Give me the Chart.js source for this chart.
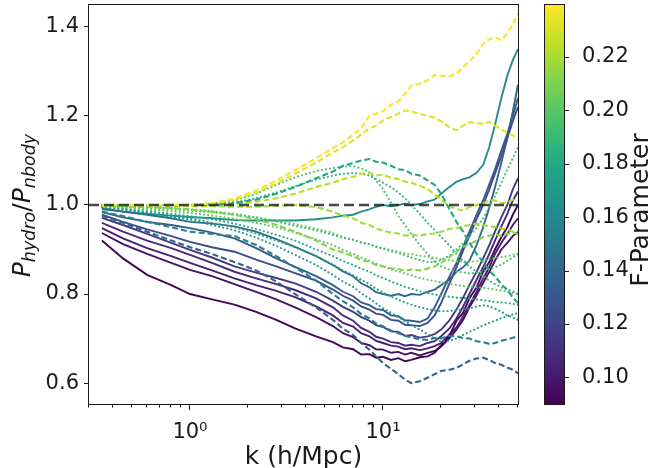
<!DOCTYPE html>
<html>
<head>
<meta charset="utf-8">
<script src="https://cdn.jsdelivr.net/npm/chart.js@4.4.1/dist/chart.umd.min.js"></script>
<style>
  html, body { margin: 0; padding: 0; background: #fff; }
  #wrap { width: 652px; height: 468px; }
</style>
</head>
<body>
<div id="wrap"><canvas id="ratioChart" width="652" height="468"></canvas></div>
<script>
// k bins (h/Mpc) shared by every run
const kValues = [0.35, 0.45, 0.6, 0.8, 1.0, 1.3, 1.7, 2.2, 2.8, 3.5, 4.5, 5.5, 6.2, 7, 7.7, 8.5, 9.2, 10, 11, 12, 13, 14,
  15.5, 17, 18.5, 20, 22, 24, 26, 28, 30.5, 33, 35.5, 38, 41, 44, 47, 50];

const xTickValues = [0.3, 0.4, 0.5, 0.6, 0.7, 0.8, 0.9, 1, 2, 3, 4, 5, 6, 7, 8, 9, 10, 20, 30, 40, 50];
const yTickValues = [0.6, 0.8, 1.0, 1.2, 1.4];
const cbTickValues = [0.10, 0.12, 0.14, 0.16, 0.18, 0.20, 0.22];
const fMin = 0.09;
const fMax = 0.2395;

// solid runs
const solid1 = [0.92, 0.88, 0.843, 0.82, 0.80, 0.788, 0.776, 0.76, 0.742, 0.723, 0.705,
  0.692, 0.680, 0.676, 0.664, 0.665, 0.657, 0.659, 0.652, 0.656, 0.649, 0.652, 0.658, 0.66, 0.668, 0.685, 0.705, 0.74, 0.758, 0.79, 0.815, 0.85, 0.872, 0.9, 0.928, 0.95, 0.978, 1.0];
const solid2 = [0.937, 0.912, 0.89, 0.87, 0.854, 0.84, 0.822, 0.805, 0.788, 0.77, 0.748,
  0.728, 0.712, 0.703, 0.69, 0.685, 0.676, 0.675, 0.668, 0.67, 0.664, 0.668, 0.662, 0.668, 0.672, 0.682, 0.7, 0.72, 0.742, 0.77, 0.797, 0.825, 0.85, 0.875, 0.9, 0.915, 0.93, 0.94];
const solid3 = [0.948, 0.925, 0.903, 0.885, 0.87, 0.853, 0.835, 0.82, 0.807, 0.793, 0.772,
  0.752, 0.735, 0.727, 0.712, 0.705, 0.695, 0.69, 0.684, 0.682, 0.676, 0.678, 0.674, 0.678, 0.683, 0.69, 0.708, 0.725, 0.75, 0.775, 0.805, 0.835, 0.86, 0.89, 0.915, 0.935, 0.955, 0.97];
const solid4 = [0.96, 0.94, 0.92, 0.903, 0.888, 0.87, 0.85, 0.835, 0.822, 0.809, 0.79,
  0.77, 0.752, 0.74, 0.724, 0.715, 0.704, 0.70, 0.692, 0.69, 0.684, 0.686, 0.683, 0.69, 0.694, 0.705, 0.722, 0.745, 0.772, 0.8, 0.832, 0.86, 0.89, 0.92, 0.952, 0.98, 1.01, 1.03];
const solid5 = [0.971, 0.955, 0.935, 0.915, 0.899, 0.882, 0.862, 0.848, 0.836, 0.824, 0.805,
  0.785, 0.771, 0.76, 0.748, 0.74, 0.73, 0.726, 0.716, 0.715, 0.706, 0.708, 0.702, 0.705, 0.71, 0.72, 0.74, 0.765, 0.792, 0.82, 0.85, 0.88, 0.91, 0.94, 0.972, 1.0, 1.035, 1.06];
const solid6 = [0.978, 0.962, 0.945, 0.93, 0.917, 0.905, 0.895, 0.877, 0.862, 0.847, 0.83,
  0.81, 0.796, 0.785, 0.772, 0.765, 0.756, 0.753, 0.742, 0.74, 0.731, 0.73, 0.728, 0.735, 0.752, 0.78, 0.822, 0.86, 0.898, 0.93, 0.968, 1.0, 1.035, 1.07, 1.11, 1.15, 1.188, 1.22];
const solid7 = [0.984, 0.972, 0.962, 0.955, 0.948, 0.938, 0.925, 0.903, 0.88, 0.861, 0.84,
  0.82, 0.805, 0.795, 0.781, 0.775, 0.766, 0.764, 0.752, 0.75, 0.741, 0.74, 0.737, 0.745, 0.77, 0.8, 0.838, 0.87, 0.906, 0.94, 0.978, 1.01, 1.046, 1.08, 1.122, 1.16, 1.2, 1.24];
const solid8 = [0.993, 0.985, 0.978, 0.97, 0.962, 0.958, 0.952, 0.94, 0.923, 0.906, 0.885,
  0.865, 0.851, 0.84, 0.824, 0.815, 0.804, 0.80, 0.796, 0.80, 0.795, 0.80, 0.798, 0.805, 0.81, 0.82, 0.832, 0.85, 0.86, 0.875, 0.91, 0.95, 0.994, 1.04, 1.095, 1.15, 1.21, 1.27];
const solid9 = [0.99, 0.985, 0.98, 0.976, 0.973, 0.97, 0.966, 0.965, 0.965, 0.965, 0.968,
  0.972, 0.976, 0.978, 0.985, 0.99, 0.996, 1.0, 0.997, 1.0, 1.003, 1.0, 1.002, 1.008, 1.012, 1.025, 1.04, 1.052, 1.058, 1.062, 1.072, 1.09, 1.13, 1.18, 1.24, 1.29, 1.325, 1.35];
const solidF = [0.091, 0.097, 0.103, 0.108, 0.115, 0.125, 0.133, 0.142, 0.162];

// dashed runs
const dashed1 = [1.0, 1.0, 1.0, 1.0, 1.0, 1.004, 1.014, 1.033, 1.055, 1.078, 1.105,
  1.128, 1.14, 1.158, 1.172, 1.2, 1.205, 1.21, 1.225, 1.232, 1.25, 1.268, 1.272, 1.28, 1.292, 1.29, 1.288, 1.295, 1.31, 1.322, 1.34, 1.362, 1.372, 1.376, 1.37, 1.385, 1.405, 1.43];
const dashed2 = [1.0, 1.0, 1.0, 1.0, 1.0, 1.003, 1.012, 1.028, 1.048, 1.07, 1.095,
  1.118, 1.13, 1.145, 1.158, 1.172, 1.178, 1.19, 1.198, 1.205, 1.212, 1.21, 1.204, 1.2, 1.196, 1.188, 1.175, 1.168, 1.178, 1.186, 1.184, 1.182, 1.186, 1.178, 1.17, 1.162, 1.156, 1.15];
const dashed3 = [1.0, 1.0, 1.0, 1.0, 1.0, 1.0, 1.004, 1.012, 1.025, 1.04, 1.06,
  1.075, 1.088, 1.094, 1.1, 1.103, 1.097, 1.095, 1.088, 1.08, 1.078, 1.07, 1.066, 1.055, 1.045, 1.025, 0.992, 0.962, 0.94, 0.915, 0.89, 0.872, 0.852, 0.84, 0.822, 0.81, 0.792, 0.78];
const dashed4 = [1.0, 1.0, 1.0, 1.0, 1.0, 1.0, 1.002, 1.007, 1.015, 1.025, 1.04,
  1.05, 1.058, 1.063, 1.07, 1.072, 1.066, 1.068, 1.061, 1.058, 1.052, 1.05, 1.043, 1.036, 1.024, 1.012, 0.998, 0.99, 0.988, 0.995, 1.0, 1.004, 1.01, 1.01, 1.004, 1.005, 1.012, 1.01];
const dashed5 = [0.999, 0.999, 0.998, 0.998, 0.997, 0.997, 0.996, 0.996, 0.998, 1.0, 0.995,
  0.985, 0.976, 0.97, 0.96, 0.955, 0.947, 0.942, 0.938, 0.936, 0.931, 0.933, 0.931, 0.935, 0.936, 0.94, 0.946, 0.948, 0.952, 0.955, 0.958, 0.955, 0.952, 0.95, 0.947, 0.945, 0.94, 0.942];
const dashed6 = [0.998, 0.997, 0.995, 0.993, 0.99, 0.985, 0.978, 0.968, 0.955, 0.94, 0.92,
  0.9, 0.893, 0.885, 0.876, 0.872, 0.865, 0.862, 0.858, 0.856, 0.852, 0.855, 0.853, 0.857, 0.862, 0.87, 0.882, 0.895, 0.906, 0.912, 0.92, 0.928, 0.931, 0.935, 0.93, 0.935, 0.938, 0.935];
const dashed7 = [0.975, 0.96, 0.94, 0.92, 0.905, 0.89, 0.872, 0.853, 0.828, 0.80, 0.77,
  0.742, 0.722, 0.708, 0.69, 0.675, 0.66, 0.645, 0.632, 0.62, 0.608, 0.6, 0.604, 0.612, 0.62, 0.627, 0.63, 0.634, 0.642, 0.65, 0.655, 0.657, 0.652, 0.645, 0.641, 0.635, 0.63, 0.622];
const dashed8 = [0.985, 0.975, 0.962, 0.95, 0.94, 0.935, 0.93, 0.91, 0.885, 0.86, 0.83,
  0.80, 0.784, 0.77, 0.755, 0.745, 0.734, 0.727, 0.718, 0.712, 0.706, 0.703, 0.698, 0.697, 0.701, 0.70, 0.706, 0.705, 0.701, 0.70, 0.694, 0.692, 0.688, 0.69, 0.695, 0.698, 0.702, 0.705];
const dashedF = [0.238, 0.233, 0.178, 0.224, 0.219, 0.212, 0.138, 0.155];

// dotted runs
const dotted1 = [1.0, 1.0, 1.0, 1.0, 1.0, 1.003, 1.01, 1.025, 1.045, 1.062, 1.076,
  1.083, 1.086, 1.087, 1.082, 1.074, 1.055, 1.035, 1.005, 0.975, 0.955, 0.935, 0.91, 0.89, 0.873, 0.862, 0.855, 0.85, 0.849, 0.846, 0.848, 0.85, 0.856, 0.86, 0.866, 0.875, 0.882, 0.89];
const dotted2 = [1.0, 1.0, 1.0, 1.0, 1.0, 1.0, 1.005, 1.015, 1.028, 1.042, 1.057,
  1.066, 1.07, 1.072, 1.07, 1.066, 1.058, 1.05, 1.04, 1.028, 1.015, 1.0, 0.98, 0.96, 0.944, 0.928, 0.91, 0.89, 0.874, 0.862, 0.85, 0.84, 0.83, 0.822, 0.815, 0.81, 0.806, 0.80];
const dotted3 = [0.998, 0.997, 0.995, 0.993, 0.99, 0.986, 0.98, 0.972, 0.963, 0.953, 0.943,
  0.933, 0.926, 0.922, 0.916, 0.912, 0.906, 0.902, 0.896, 0.892, 0.887, 0.882, 0.876, 0.872, 0.872, 0.876, 0.886, 0.9, 0.914, 0.93, 0.948, 0.97, 0.994, 1.02, 1.05, 1.08, 1.105, 1.13];
const dotted4 = [0.998, 0.996, 0.993, 0.99, 0.987, 0.983, 0.978, 0.972, 0.965, 0.957, 0.947,
  0.937, 0.928, 0.922, 0.915, 0.912, 0.906, 0.903, 0.898, 0.895, 0.891, 0.89, 0.886, 0.884, 0.881, 0.878, 0.876, 0.874, 0.873, 0.872, 0.874, 0.876, 0.879, 0.88, 0.883, 0.885, 0.888, 0.89];
const dotted5 = [0.997, 0.994, 0.99, 0.986, 0.982, 0.976, 0.969, 0.96, 0.95, 0.938, 0.923,
  0.91, 0.899, 0.89, 0.882, 0.875, 0.868, 0.862, 0.855, 0.851, 0.846, 0.842, 0.836, 0.832, 0.829, 0.826, 0.823, 0.82, 0.818, 0.816, 0.815, 0.814, 0.812, 0.81, 0.808, 0.805, 0.802, 0.8];
const dotted6 = [0.996, 0.992, 0.986, 0.98, 0.975, 0.968, 0.958, 0.946, 0.933, 0.92, 0.9,
  0.885, 0.874, 0.865, 0.857, 0.85, 0.842, 0.836, 0.828, 0.822, 0.816, 0.812, 0.806, 0.802, 0.799, 0.796, 0.794, 0.792, 0.791, 0.79, 0.788, 0.786, 0.784, 0.782, 0.781, 0.78, 0.778, 0.776];
const dotted7 = [0.995, 0.99, 0.983, 0.976, 0.97, 0.96, 0.95, 0.936, 0.92, 0.905, 0.885,
  0.866, 0.853, 0.842, 0.832, 0.822, 0.812, 0.803, 0.794, 0.787, 0.781, 0.776, 0.77, 0.766, 0.763, 0.761, 0.762, 0.763, 0.766, 0.768, 0.772, 0.775, 0.772, 0.767, 0.76, 0.752, 0.747, 0.742];
const dotted8 = [0.995, 0.99, 0.982, 0.974, 0.967, 0.955, 0.943, 0.927, 0.908, 0.888, 0.865,
  0.843, 0.828, 0.816, 0.802, 0.79, 0.779, 0.768, 0.758, 0.748, 0.739, 0.73, 0.72, 0.71, 0.70, 0.693, 0.695, 0.70, 0.708, 0.715, 0.722, 0.73, 0.735, 0.74, 0.746, 0.75, 0.754, 0.757];
const dottedF = [0.196, 0.188, 0.192, 0.206, 0.2, 0.182, 0.174, 0.168];

const solidRuns = [solid1, solid2, solid3, solid4, solid5, solid6, solid7, solid8, solid9];
const dashedRuns = [dashed1, dashed2, dashed3, dashed4, dashed5, dashed6, dashed7, dashed8];
const dottedRuns = [dotted1, dotted2, dotted3, dotted4, dotted5, dotted6, dotted7, dotted8];
const refLevel = 1.0;

const viridisStops = ['#440154', '#482475', '#414487', '#355f8d', '#2a788e', '#21918c',
  '#22a884', '#44bf70', '#7ad151', '#bddf26', '#fde725'];

const hexToRgb = (h) => [1, 3, 5].map(i => parseInt(h.substr(i, 2), 16));

const viridis = (t) => {
  t = Math.max(0, Math.min(1, t));
  const pos = t * (viridisStops.length - 1);
  const i = Math.min(Math.floor(pos), viridisStops.length - 2);
  const f = pos - i;
  const a = hexToRgb(viridisStops[i]);
  const b = hexToRgb(viridisStops[i + 1]);
  const c = a.map((v, j) => Math.round(v + (b[j] - v) * f));
  return 'rgb(' + c.join(',') + ')';
};

const colorFor = (f) => viridis((f - fMin) / (fMax - fMin));
const toPoints = (vals) => vals.map((v, i) => ({ x: kValues[i], y: v }));

const makeRun = (vals, f, kind) => ({
  data: toPoints(vals),
  borderColor: colorFor(f),
  borderWidth: kind === 'solid' ? 1.9 : 2.1,
  borderDash: kind === 'dashed' ? [6, 3] : kind === 'dotted' ? [0.1, 4] : [],
  borderCapStyle: kind === 'dotted' ? 'round' : 'butt',
  pointRadius: 0,
  tension: 0,
  fill: false
});

const datasets = [{
  data: [{ x: 0.3, y: refLevel }, { x: 50, y: refLevel }],
  borderColor: 'rgba(40,40,40,0.85)',
  borderWidth: 2.5,
  borderDash: [10, 5],
  pointRadius: 0,
  fill: false
}];
dashedRuns.forEach((r, i) => datasets.push(makeRun(r, dashedF[i], 'dashed')));
dottedRuns.forEach((r, i) => datasets.push(makeRun(r, dottedF[i], 'dotted')));
solidRuns.forEach((r, i) => datasets.push(makeRun(r, solidF[i], 'solid')));

const tickFont = { family: 'DejaVu Sans', size: 21 };
const labelFont = '25px "DejaVu Sans"';
const inkColor = '#1a1a1a';

// no extra label padding around the plot area
const noPad = (s) => { s.paddingTop = 0; s.paddingBottom = 0; s.paddingLeft = 0; s.paddingRight = 0; };

const decorPlugin = {
  id: 'decor',
  afterDraw(chart) {
    const ctx = chart.ctx;
    const a = chart.chartArea;
    const xs = chart.scales.x;
    const cb = chart.scales.cb;
    ctx.save();

    // axes frame
    ctx.strokeStyle = inkColor;
    ctx.lineWidth = 1;
    ctx.strokeRect(a.left - 0.5, a.top - 0.5, a.right - a.left + 1, a.bottom - a.top + 1);

    // x ticks, long for decades
    xs.ticks.forEach(t => {
      const px = Math.round(xs.getPixelForValue(t.value)) - 0.5;
      const major = t.value === 1 || t.value === 10;
      ctx.beginPath();
      ctx.moveTo(px, a.bottom);
      ctx.lineTo(px, a.bottom + (major ? 6 : 3.5));
      ctx.stroke();
    });

    // colour bar
    const barLeft = 545, barRight = 564;
    const yTop = cb.getPixelForValue(fMax);
    const yBot = cb.getPixelForValue(fMin);
    const grad = ctx.createLinearGradient(0, yBot, 0, yTop);
    viridisStops.forEach((c, i) => grad.addColorStop(i / (viridisStops.length - 1), c));
    ctx.fillStyle = grad;
    ctx.fillRect(barLeft, yTop, barRight - barLeft, yBot - yTop);
    ctx.strokeRect(barLeft - 0.5, yTop - 0.5, barRight - barLeft + 1, yBot - yTop + 1);
    cb.ticks.forEach(t => {
      const py = Math.round(cb.getPixelForValue(t.value)) + 0.5;
      ctx.beginPath();
      ctx.moveTo(barRight, py);
      ctx.lineTo(barRight + 5, py);
      ctx.stroke();
    });

    ctx.fillStyle = inkColor;

    // x title
    ctx.font = labelFont;
    ctx.textAlign = 'center';
    ctx.textBaseline = 'alphabetic';
    ctx.fillText('k (h/Mpc)', (a.left + a.right) / 2, 464);

    // colour bar title
    ctx.save();
    ctx.translate(648, 210);
    ctx.rotate(-Math.PI / 2);
    ctx.fillText('F-Parameter', 0, 0);
    ctx.restore();

    // y title with subscripts
    const parts = [
      { t: 'P', font: 'italic 25px "DejaVu Sans"', dy: 0 },
      { t: 'hydro', font: 'italic 17.5px "DejaVu Sans"', dy: 5 },
      { t: '/', font: '25px "DejaVu Sans"', dy: 0 },
      { t: 'P', font: 'italic 25px "DejaVu Sans"', dy: 0 },
      { t: 'nbody', font: 'italic 17.5px "DejaVu Sans"', dy: 5 }
    ];
    let total = 0;
    parts.forEach(p => { ctx.font = p.font; p.w = ctx.measureText(p.t).width; total += p.w; });
    ctx.save();
    ctx.translate(30, (a.top + a.bottom) / 2 + 1);
    ctx.rotate(-Math.PI / 2);
    ctx.textAlign = 'left';
    let u = -total / 2;
    parts.forEach(p => { ctx.font = p.font; ctx.fillText(p.t, u, p.dy); u += p.w; });
    ctx.restore();

    ctx.restore();
  }
};

new Chart(document.getElementById('ratioChart'), {
  type: 'line',
  data: { datasets: datasets },
  plugins: [decorPlugin],
  options: {
    responsive: false,
    devicePixelRatio: 1,
    animation: false,
    events: [],
    layout: { padding: { top: 5, left: 0, right: 0, bottom: 0 } },
    plugins: {
      legend: { display: false },
      tooltip: { enabled: false }
    },
    scales: {
      x: {
        type: 'logarithmic',
        position: 'bottom',
        min: 0.3,
        max: 50,
        afterFit: (s) => { s.height = 64; noPad(s); },
        afterBuildTicks: (s) => { s.ticks = xTickValues.map(v => ({ value: v })); },
        grid: { display: false },
        border: { display: false },
        ticks: {
          autoSkip: false,
          maxRotation: 0,
          padding: 8,
          color: inkColor,
          font: tickFont,
          callback: (v) => v === 1 ? '10\u2070' : v === 10 ? '10\u00b9' : ''
        }
      },
      y: {
        type: 'linear',
        position: 'left',
        min: 0.553,
        max: 1.449,
        afterFit: (s) => { s.width = 89; noPad(s); },
        afterBuildTicks: (s) => { s.ticks = yTickValues.map(v => ({ value: v })); },
        grid: { drawOnChartArea: false, drawTicks: true, tickLength: 5, color: inkColor, lineWidth: 1 },
        border: { display: false },
        ticks: {
          padding: 5,
          color: inkColor,
          font: tickFont,
          callback: (v) => Number(v).toFixed(1)
        }
      },
      cb: {
        type: 'linear',
        position: 'right',
        display: true,
        min: fMin,
        max: fMax,
        afterFit: (s) => { s.width = 134; noPad(s); },
        afterBuildTicks: (s) => { s.ticks = cbTickValues.map(v => ({ value: v })); },
        grid: { display: false },
        border: { display: false },
        ticks: {
          padding: 56,
          color: inkColor,
          font: tickFont,
          callback: (v) => Number(v).toFixed(2)
        }
      }
    }
  }
});
</script>
</body>
</html>
